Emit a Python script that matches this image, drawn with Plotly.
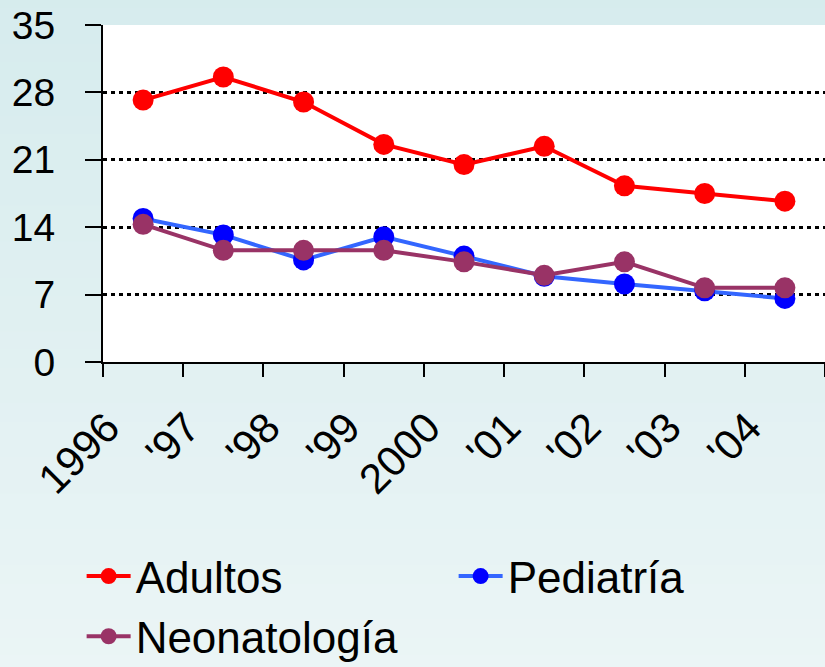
import plotly.graph_objects as go

years = ["1996", "'97", "'98", "'99", "2000", "'01", "'02", "'03", "'04"]
adultos = [27.2, 29.6, 27.0, 22.6, 20.5, 22.4, 18.3, 17.5, 16.7]
pediatria = [14.9, 13.2, 10.6, 13.0, 11.0, 8.9, 8.1, 7.4, 6.6]
neonatologia = [14.3, 11.6, 11.6, 11.6, 10.4, 9.0, 10.4, 7.7, 7.7]
y_ticks = [0, 7, 14, 21, 28, 35]

FONT = "Liberation Sans, Arial, sans-serif"

fig = go.Figure()
fig.add_trace(go.Scatter(x=years, y=adultos, name="Adultos", mode="lines+markers",
                         line=dict(color="#FF0000", width=4),
                         marker=dict(color="#FF0000", size=21)))
fig.add_trace(go.Scatter(x=years, y=pediatria, name="Pediatría", mode="lines+markers",
                         line=dict(color="#3366FF", width=4),
                         marker=dict(color="#0000FF", size=21)))
fig.add_trace(go.Scatter(x=years, y=neonatologia, name="Neonatología", mode="lines+markers",
                         line=dict(color="#993366", width=4),
                         marker=dict(color="#993366", size=21)))

# background gradient bands
shapes = []
n = 60
top = (213, 235, 237)
bot = (246, 250, 250)
for i in range(n):
    t = i / (n - 1)
    c = tuple(round(top[k] + (bot[k] - top[k]) * t) for k in range(3))
    shapes.append(dict(type="rect", xref="paper", yref="paper", layer="below",
                       x0=-1, x1=2, y0=1.2 - (i + 1) * (3.2 / n), y1=1.2 - i * (3.2 / n) + 0.01,
                       line=dict(width=0), fillcolor="rgb(%d,%d,%d)" % c))
shapes.append(dict(type="rect", xref="x domain", yref="y domain", layer="below",
                   x0=0, x1=1, y0=0, y1=1, line=dict(width=0), fillcolor="white"))
fig.update_layout(shapes=shapes)

fig.update_layout(
    width=825, height=667,
    margin=dict(l=103, r=0, t=25, b=305, autoexpand=False),
    paper_bgcolor="rgb(230,242,243)",
    plot_bgcolor="white",
    font=dict(family=FONT, color="black"),
    showlegend=True,
    legend=dict(orientation="h", x=-0.0296, y=-0.531, xanchor="left", yanchor="top",
                font=dict(size=44, family=FONT), entrywidth=313, entrywidthmode="pixels",
                itemwidth=44, bgcolor="rgba(0,0,0,0)", tracegroupgap=0),
)
fig.update_xaxes(type="category", range=[-0.5, 8.5], tickson="boundaries",
                 ticks="outside", ticklen=13, tickwidth=2, tickcolor="black",
                 showline=True, linecolor="black", linewidth=2, showgrid=False,
                 tickangle=-45, tickfont=dict(size=42, family=FONT),
                 ticklabelstandoff=22, ticklabelshift=-36, zeroline=False,
                 automargin=False)
fig.update_yaxes(range=[0, 35], tickvals=y_ticks, ticks="outside", ticklen=16,
                 tickwidth=2, tickcolor="black", showline=True, linecolor="black",
                 linewidth=2, showgrid=True, gridcolor="black", gridwidth=2.5,
                 griddash="4px,4px", zeroline=False, automargin=False,
                 tickfont=dict(size=39, family=FONT), ticklabelstandoff=22)

fig.write_html("out.html", config={"displayModeBar": False},
               post_script="document.body.style.margin='0';document.body.style.padding='0';")
